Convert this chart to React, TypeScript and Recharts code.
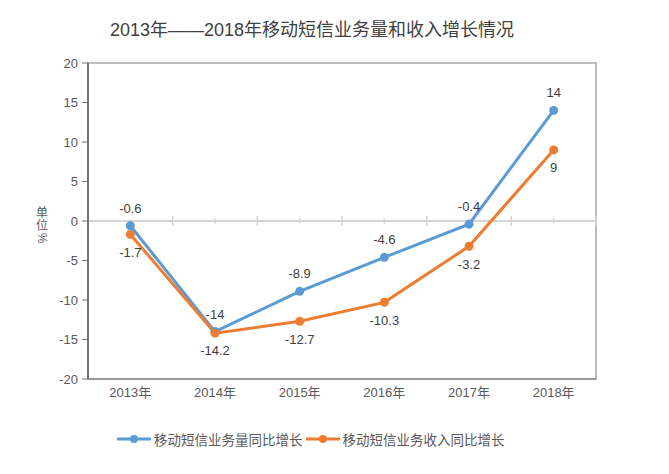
import React from "react";
import {
  LabelList,
  Legend,
  Line,
  LineChart,
  ReferenceArea,
  ReferenceLine,
  XAxis,
  YAxis,
} from "recharts";

const years = ["2013年", "2014年", "2015年", "2016年", "2017年", "2018年"];
const volumeGrowth = [-0.6, -14, -8.9, -4.6, -0.4, 14];
const revenueGrowth = [-1.7, -14.2, -12.7, -10.3, -3.2, 9];
const yTicks = [-20, -15, -10, -5, 0, 5, 10, 15, 20];
const unitChars = ["单", "位", "%"];

const BLUE = "#5B9BD5";
const ORANGE = "#ED7D31";
const FONT = '"Liberation Sans", "Noto Sans CJK SC", sans-serif';

const data = years.map((year, i) => ({
  year,
  volume: volumeGrowth[i],
  revenue: revenueGrowth[i],
}));

// zero line with Excel-like major/minor tick marks
function ZeroAxis(props: any) {
  const { x1, x2, y1 } = props;
  const n = years.length * 2;
  const step = (x2 - x1) / n;
  const marks = [];
  for (let i = 1; i <= n; i++) {
    const x = x1 + step * i;
    const h = i % 2 === 0 ? 5 : 2.5;
    marks.push(<line key={i} x1={x} x2={x} y1={y1 - h} y2={y1 + h} stroke="#d4d4d4" strokeWidth={1.5} />);
  }
  return (
    <g>
      <line x1={x1} x2={x2} y1={y1} y2={y1} stroke="#d4d4d4" strokeWidth={2} />
      {marks}
    </g>
  );
}

function LegendContent() {
  const items = [
    { name: "移动短信业务量同比增长", color: BLUE },
    { name: "移动短信业务收入同比增长", color: ORANGE },
  ];
  return (
    <div style={{ display: "flex", alignItems: "center", fontFamily: FONT, fontSize: 13.5, color: "#595959" }}>
      {items.map((it) => (
        <div key={it.name} style={{ display: "flex", alignItems: "center", marginRight: 2 }}>
          <svg width={36} height={12} style={{ marginRight: 2 }}>
            <line x1={1} x2={35} y1={6} y2={6} stroke={it.color} strokeWidth={3} />
            <circle cx={18} cy={6} r={4} fill={it.color} />
          </svg>
          <span>{it.name}</span>
        </div>
      ))}
    </div>
  );
}

export default function App() {
  return (
    <div style={{ position: "relative", width: 653, height: 458, fontFamily: FONT }}>
      <div
        style={{
          position: "absolute",
          left: 0,
          width: 608,
          top: 12,
          textAlign: "center",
          fontSize: 18,
          lineHeight: "20px",
          color: "#404040",
        }}
      >
        2013年——2018年移动短信业务量和收入增长情况
      </div>
      {unitChars.map((ch, i) => (
        <div
          key={ch}
          style={{
            position: "absolute",
            left: 27,
            top: 199 + i * 12.5,
            width: 14,
            height: 12,
            textAlign: "center",
            fontSize: 12,
            lineHeight: "12px",
            color: "#595959",
            transform: ch === "%" ? "rotate(90deg)" : undefined,
          }}
        >
          {ch}
        </div>
      ))}
      <LineChart
        width={653}
        height={458}
        data={data}
        margin={{ top: 55, right: 65, left: 50, bottom: 57 }}
        style={{ fontFamily: FONT }}
      >
        <ReferenceArea y1={-20} y2={20} fill="none" stroke="#a6a6a6" strokeWidth={1.5} />
        <XAxis
          dataKey="year"
          scale="band"
          height={30}
          axisLine={{ stroke: "#8c8c8c", strokeWidth: 1.5 }}
          tickLine={false}
          tickMargin={3}
          tick={{ fontSize: 13, fill: "#595959" }}
        />
        <YAxis
          width={30}
          domain={[-20, 20]}
          ticks={yTicks}
          interval={0}
          axisLine={{ stroke: "#737373", strokeWidth: 2 }}
          tickLine={{ stroke: "#737373" }}
          tickSize={6}
          tickMargin={4}
          tick={{ fontSize: 13, fill: "#595959" }}
        />
        <ReferenceLine y={0} shape={ZeroAxis} />
        <Legend
          verticalAlign="middle"
          align="center"
          layout="horizontal"
          wrapperStyle={{ top: 421, left: 108, width: 460 }}
          content={<LegendContent />}
        />
        <Line
          type="linear"
          dataKey="volume"
          name="移动短信业务量同比增长"
          stroke={BLUE}
          strokeWidth={3}
          dot={{ r: 4.5, fill: BLUE, stroke: BLUE, strokeWidth: 0 }}
          activeDot={false}
          isAnimationActive={false}
        >
          <LabelList dataKey="volume" position="top" offset={13} fontSize={13} fill="#404040" />
        </Line>
        <Line
          type="linear"
          dataKey="revenue"
          name="移动短信业务收入同比增长"
          stroke={ORANGE}
          strokeWidth={3}
          dot={{ r: 4.5, fill: ORANGE, stroke: ORANGE, strokeWidth: 0 }}
          activeDot={false}
          isAnimationActive={false}
        >
          <LabelList dataKey="revenue" position="bottom" offset={13} fontSize={13} fill="#404040" />
        </Line>
      </LineChart>
    </div>
  );
}
